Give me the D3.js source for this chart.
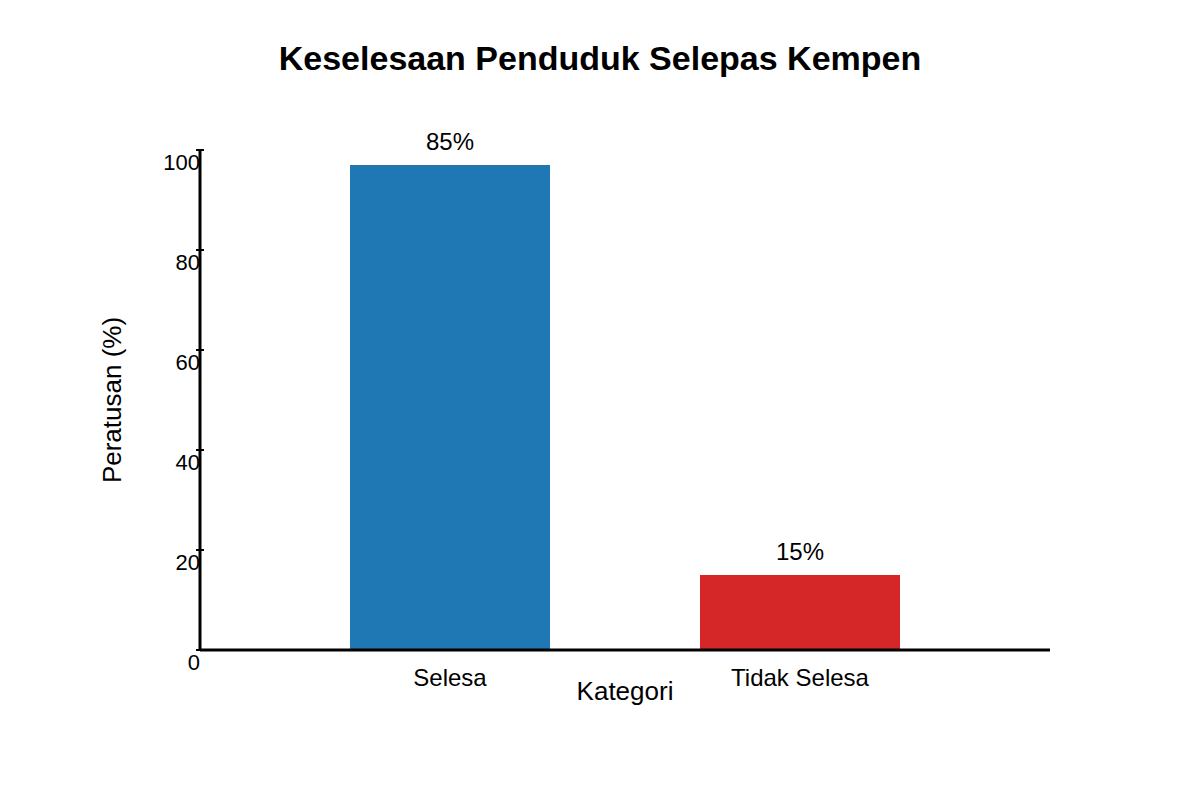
<!DOCTYPE html>
<html>
<head>
<meta charset="utf-8">
<script src="https://cdn.jsdelivr.net/npm/d3@7"></script>
<style>
  body { margin: 0; background: #fff; }
  text { font-family: "Liberation Sans", Arial, sans-serif; fill: #000; }
</style>
</head>
<body>
<div id="chart"></div>
<script>
// data
var categories = ["Selesa", "Tidak Selesa"];
var barValues = [97, 15];            // bar heights as drawn
var valueLabels = ["85%", "15%"];    // text printed above each bar
var barColors = ["#1f77b4", "#d62728"];
var yTicks = [0, 20, 40, 60, 80, 100];

var width = 1200,
	height = 800,
	margin = {top: 150, right: 150, bottom: 150, left: 200};

var svg = d3.select("#chart").append("svg")
	.attr("width", width)
	.attr("height", height);

var x = d3.scaleBand()
	.domain(categories)
	.range([margin.left, width - margin.right])
	.padding(3 / 7);

var y = d3.scaleLinear()
	.domain([0, 100])
	.range([height - margin.bottom, margin.top]);

// title
svg.append("text")
	.attr("x", 600)
	.attr("y", 70)
	.attr("text-anchor", "middle")
	.style("font-size", "34px")
	.style("font-weight", "bold")
	.text("Keselesaan Penduduk Selepas Kempen");

// bars
svg.selectAll(".bar")
	.data(categories)
	.enter()
	.append("rect")
	.attr("class", "bar")
	.attr("x", function(d) { return x(d); })
	.attr("y", function(d, i) { return y(barValues[i]); })
	.attr("width", x.bandwidth())
	.attr("height", function(d, i) { return y(0) - y(barValues[i]); })
	.style("fill", function(d, i) { return barColors[i]; });

// value labels
svg.selectAll(".value")
	.data(categories)
	.enter()
	.append("text")
	.attr("class", "value")
	.attr("x", function(d) { return x(d) + x.bandwidth() / 2; })
	.attr("y", function(d, i) { return y(barValues[i]) - 15; })
	.attr("text-anchor", "middle")
	.style("font-size", "24px")
	.text(function(d, i) { return valueLabels[i]; });

// y axis line + ticks
var yAxis = svg.append("g").attr("class", "y-axis");
yAxis.append("line")
	.attr("x1", margin.left).attr("x2", margin.left)
	.attr("y1", y(100)).attr("y2", y(0))
	.style("stroke", "#000")
	.style("stroke-width", 3);

yAxis.selectAll(".tick")
	.data(yTicks)
	.enter()
	.append("line")
	.attr("x1", margin.left - 4).attr("x2", margin.left + 4)
	.attr("y1", function(d) { return y(d); })
	.attr("y2", function(d) { return y(d); })
	.style("stroke", "#000")
	.style("stroke-width", 2);

yAxis.selectAll(".tick-label")
	.data(yTicks)
	.enter()
	.append("text")
	.attr("x", margin.left)
	.attr("y", function(d) { return y(d) + 20; })
	.attr("text-anchor", "end")
	.style("font-size", "22px")
	.text(function(d) { return d; });

// x axis line
svg.append("line")
	.attr("x1", margin.left).attr("x2", width - margin.right)
	.attr("y1", y(0)).attr("y2", y(0))
	.style("stroke", "#000")
	.style("stroke-width", 3);

// category labels
svg.selectAll(".cat")
	.data(categories)
	.enter()
	.append("text")
	.attr("class", "cat")
	.attr("x", function(d) { return x(d) + x.bandwidth() / 2; })
	.attr("y", y(0) + 36)
	.attr("text-anchor", "middle")
	.style("font-size", "24px")
	.text(function(d) { return d; });

// axis titles
svg.append("text")
	.attr("x", 625)
	.attr("y", 700)
	.attr("text-anchor", "middle")
	.style("font-size", "26px")
	.text("Kategori");

svg.append("text")
	.attr("transform", "translate(121,400) rotate(-90)")
	.attr("text-anchor", "middle")
	.style("font-size", "26px")
	.text("Peratusan (%)");
</script>
</body>
</html>
